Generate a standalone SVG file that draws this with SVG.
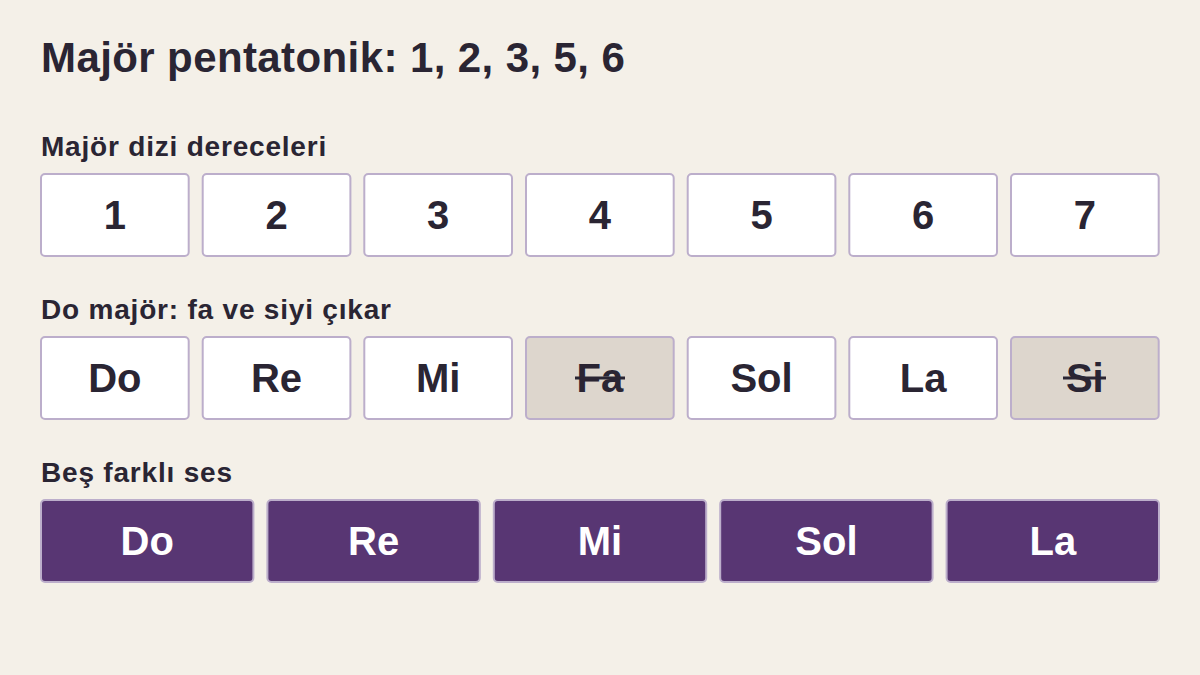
<svg xmlns="http://www.w3.org/2000/svg" width="1200" height="675" viewBox="0 0 1200 675">
<style>
text{font-family:"Liberation Sans",Arial,Helvetica,sans-serif;font-weight:bold;fill:#2a2533}
.title{font-size:42px;letter-spacing:0.4px}
.lbl{font-size:28px;letter-spacing:0.8px}
.bt{font-size:40px;text-anchor:middle}
.w{fill:#ffffff;stroke:#bcaecb;stroke-width:2}
.g{fill:#ddd6cd;stroke:#bcaecb;stroke-width:2}
.p{fill:#583673;stroke:#bcaecb;stroke-width:2}
.wt{fill:#ffffff}
.strike{stroke:#2a2533;stroke-width:3}
</style>
<rect width="1200" height="675" fill="#f4f0e8"/>
<text class="title" x="41" y="72">Majör pentatonik: 1, 2, 3, 5, 6</text>

<g id="row1">
<text class="lbl" x="41" y="156">Majör dizi dereceleri</text>
<g id="d1"><rect class="w" x="41" y="174" width="147.7" height="82" rx="4"/><text class="bt" x="114.8" y="229">1</text></g>
<g id="d2"><rect class="w" x="202.7" y="174" width="147.7" height="82" rx="4"/><text class="bt" x="276.5" y="229">2</text></g>
<g id="d3"><rect class="w" x="364.3" y="174" width="147.7" height="82" rx="4"/><text class="bt" x="438.2" y="229">3</text></g>
<g id="d4"><rect class="w" x="526" y="174" width="147.7" height="82" rx="4"/><text class="bt" x="599.8" y="229">4</text></g>
<g id="d5"><rect class="w" x="687.7" y="174" width="147.7" height="82" rx="4"/><text class="bt" x="761.5" y="229">5</text></g>
<g id="d6"><rect class="w" x="849.3" y="174" width="147.7" height="82" rx="4"/><text class="bt" x="923.2" y="229">6</text></g>
<g id="d7"><rect class="w" x="1011" y="174" width="147.7" height="82" rx="4"/><text class="bt" x="1084.8" y="229">7</text></g>
</g>

<g id="row2">
<text class="lbl" x="41" y="319">Do majör: fa ve siyi çıkar</text>
<g id="n-do"><rect class="w" x="41" y="337" width="147.7" height="82" rx="4"/><text class="bt" x="114.8" y="392">Do</text></g>
<g id="n-re"><rect class="w" x="202.7" y="337" width="147.7" height="82" rx="4"/><text class="bt" x="276.5" y="392">Re</text></g>
<g id="n-mi"><rect class="w" x="364.3" y="337" width="147.7" height="82" rx="4"/><text class="bt" x="438.2" y="392">Mi</text></g>
<g id="n-fa"><rect class="g" x="526" y="337" width="147.7" height="82" rx="4"/><text class="bt" x="599.8" y="392">Fa</text><line class="strike" x1="575" y1="378" x2="625" y2="378"/></g>
<g id="n-sol"><rect class="w" x="687.7" y="337" width="147.7" height="82" rx="4"/><text class="bt" x="761.5" y="392">Sol</text></g>
<g id="n-la"><rect class="w" x="849.3" y="337" width="147.7" height="82" rx="4"/><text class="bt" x="923.2" y="392">La</text></g>
<g id="n-si"><rect class="g" x="1011" y="337" width="147.7" height="82" rx="4"/><text class="bt" x="1084.8" y="392">Si</text><line class="strike" x1="1063" y1="378" x2="1106" y2="378"/></g>
</g>

<g id="row3">
<text class="lbl" x="41" y="482">Beş farklı ses</text>
<g id="p-do"><rect class="p" x="41" y="500" width="212.4" height="82" rx="4"/><text class="bt wt" x="147.2" y="555">Do</text></g>
<g id="p-re"><rect class="p" x="267.4" y="500" width="212.4" height="82" rx="4"/><text class="bt wt" x="373.6" y="555">Re</text></g>
<g id="p-mi"><rect class="p" x="493.8" y="500" width="212.4" height="82" rx="4"/><text class="bt wt" x="600" y="555">Mi</text></g>
<g id="p-sol"><rect class="p" x="720.2" y="500" width="212.4" height="82" rx="4"/><text class="bt wt" x="826.4" y="555">Sol</text></g>
<g id="p-la"><rect class="p" x="946.6" y="500" width="212.4" height="82" rx="4"/><text class="bt wt" x="1052.8" y="555">La</text></g>
</g>
<g id="connectors"/>
</svg>
